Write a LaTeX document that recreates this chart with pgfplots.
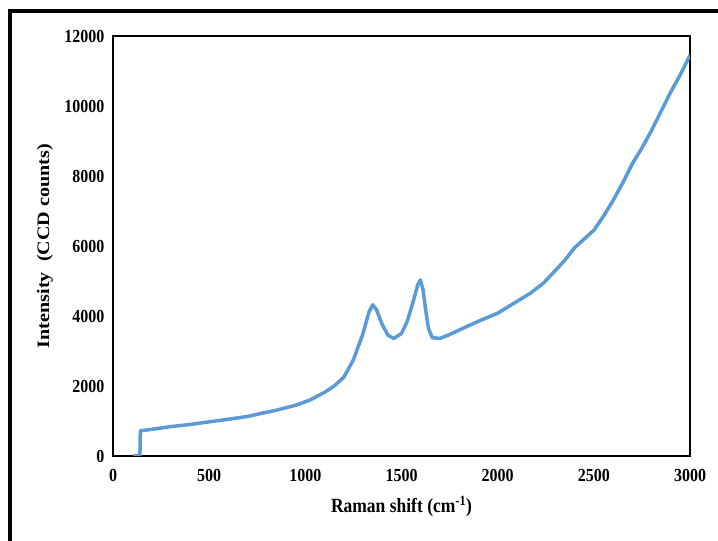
\documentclass[border=0pt]{standalone}
\usepackage{pgfplots}
\pgfplotsset{compat=1.18}
\usepackage{fontspec}
\setmainfont{Liberation Serif}
\definecolor{ramanblue}{RGB}{91,155,213}
\begin{document}
\begin{tikzpicture}[x=1pt,y=1pt]
\useasboundingbox (0,0) rectangle (718,541);
\fill[white] (0,0) rectangle (718,541);
\draw[line width=4pt] (10,0) -- (10,530) -- (718,530);
\begin{axis}[
  at={(113pt,85pt)}, anchor=south west,
  scale only axis, width=577pt, height=420pt,
  xmin=0, xmax=3000, ymin=0, ymax=12000,
  xtick={0,500,...,3000}, ytick={0,2000,...,12000},
  scaled y ticks=false, scaled x ticks=false,
  major tick length=0pt,
  axis line style={line width=1.6pt, black},
  /pgf/number format/assume math mode=true,
  /pgf/number format/1000 sep={},
  tick label style={font=\bfseries\fontsize{16}{16}\selectfont, yscale=1.15},
  yticklabel style={xshift=-5pt},
  xticklabel style={yshift=-8pt},
  xlabel={Raman shift (cm\textsuperscript{-1})},
  ylabel={Intensity\ \ (CCD counts)},
  label style={font=\bfseries\fontsize{17.5}{17.5}\selectfont},
  xlabel style={at={(axis description cs:0.5,-0.121)}, anchor=center, yscale=1.15},
  ylabel style={at={(axis description cs:-0.118,0.5)}, anchor=center, xscale=1.15},
]
\addplot[color=ramanblue, line width=3.5pt, line join=round] coordinates {
(104,0) (140,0) (142,720) (200,760) (300,840) (400,900) (505,980) (600,1050)
(700,1130) (765,1210) (850,1310) (950,1450) (1024,1600) (1100,1820) (1150,2000)
(1200,2250) (1250,2750) (1300,3500) (1330,4100) (1350,4320) (1370,4180)
(1400,3750) (1430,3450) (1460,3360) (1500,3500) (1530,3850) (1560,4400)
(1585,4900) (1598,5030) (1612,4750) (1625,4200) (1640,3650) (1660,3380)
(1700,3360) (1750,3470) (1820,3650) (1900,3850) (2000,4080) (2080,4350)
(2170,4650) (2240,4950) (2300,5300) (2350,5600) (2400,5950) (2450,6200)
(2500,6450) (2550,6850) (2600,7300) (2650,7800) (2700,8350) (2750,8800)
(2800,9300) (2850,9850) (2900,10400) (2950,10900) (3000,11450)
};
\end{axis}
\end{tikzpicture}
\end{document}
